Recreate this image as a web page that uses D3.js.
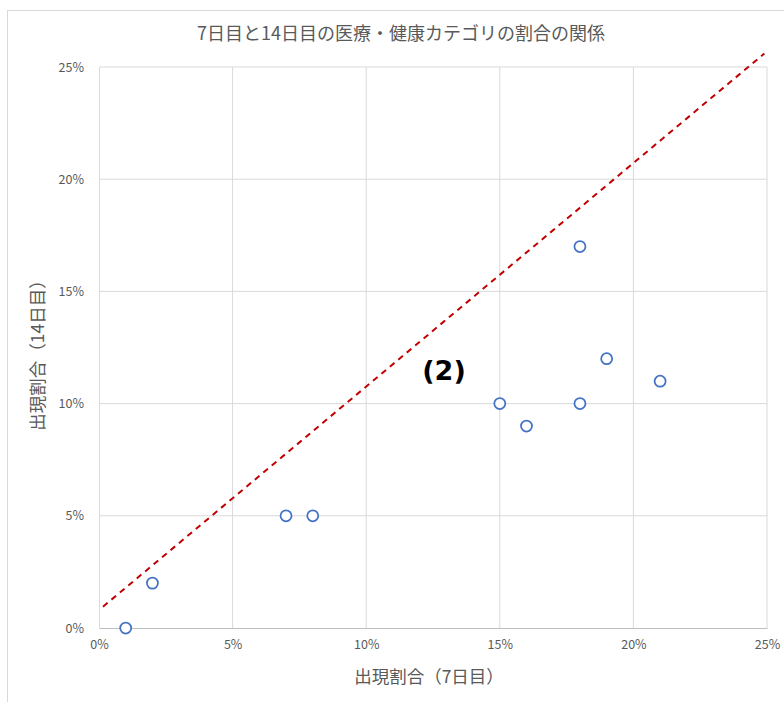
<!DOCTYPE html>
<html><head><meta charset="utf-8">
<script src="https://cdn.jsdelivr.net/npm/d3@7"></script>
<style>body{margin:0;background:#fff;}svg{display:block;font-family:"Noto Sans CJK JP","Noto Sans",sans-serif;}</style>
</head><body>
<script>
const day7 = [1, 2, 7, 8, 15, 16, 18, 18, 19, 21];
const day14 = [0, 2, 5, 5, 10, 9, 17, 10, 12, 11];
const xTicks = [0, 5, 10, 15, 20, 25];
const yTicks = [0, 5, 10, 15, 20, 25];
const refLineX = [0.15, 24.9];
const refLineY = [0.95, 25.6];
const title = "7日目と14日目の医療・健康カテゴリの割合の関係";
const xTitle = "出現割合（7日目）";
const yTitle = "出現割合（14日目）";
const note = "(2)";

const W = 784, H = 702;
const svg = d3.select("body").append("svg").attr("width", W).attr("height", H);
svg.append("rect").attr("x", 7.5).attr("y", 10.5).attr("width", 800).attr("height", 720)
  .attr("fill", "#fff").attr("stroke", "#d9d9d9");

const x = d3.scaleLinear().domain([0, 25]).range([99, 767]);
const y = d3.scaleLinear().domain([0, 25]).range([628, 67]);

// gridlines
svg.append("g").selectAll("line").data(xTicks.slice(1)).join("line")
  .attr("x1", d => x(d)).attr("x2", d => x(d)).attr("y1", y(0)).attr("y2", y(25))
  .attr("stroke", "#d9d9d9");
svg.append("g").selectAll("line").data(yTicks.slice(1)).join("line")
  .attr("x1", x(0)).attr("x2", x(25)).attr("y1", d => y(d)).attr("y2", d => y(d))
  .attr("stroke", "#d9d9d9");

// axes
const xa = svg.append("g").attr("transform", `translate(0,${y(0)})`)
  .call(d3.axisBottom(x).tickValues(xTicks).tickFormat(d => d + "%").tickSize(0).tickPadding(12));
const ya = svg.append("g").attr("transform", `translate(${x(0)},0)`)
  .call(d3.axisLeft(y).tickValues(yTicks).tickFormat(d => d + "%").tickSize(0).tickPadding(15));
[xa, ya].forEach(a => {
  a.select(".domain").attr("stroke", "#bfbfbf");
  a.selectAll("text").attr("fill", "#595959").attr("font-size", 12.5)
    .attr("font-family", '"Noto Sans CJK JP","Noto Sans",sans-serif');
});
ya.select(".domain").attr("stroke", "#d9d9d9");

// reference line
svg.append("line")
  .attr("x1", x(refLineX[0])).attr("y1", y(refLineY[0]))
  .attr("x2", x(refLineX[1])).attr("y2", y(refLineY[1]))
  .attr("stroke", "#c00000").attr("stroke-width", 2).attr("stroke-dasharray", "6,5");

// points
svg.append("g").selectAll("circle").data(day7.map((d, i) => [d, day14[i]])).join("circle")
  .attr("cx", d => x(d[0])).attr("cy", d => y(d[1])).attr("r", 5.5)
  .attr("fill", "#fff").attr("stroke", "#4472c4").attr("stroke-width", 1.75);

// texts
svg.append("text").attr("x", 401).attr("y", 40).attr("text-anchor", "middle")
  .attr("font-size", 18).attr("fill", "#595959").text(title);
svg.append("text").attr("x", 429).attr("y", 683).attr("text-anchor", "middle")
  .attr("font-size", 17.5).attr("fill", "#595959").text(xTitle);
svg.append("text").attr("transform", "translate(44,351) rotate(-90)").attr("text-anchor", "middle")
  .attr("font-size", 17.5).attr("fill", "#595959").text(yTitle);
svg.append("text").attr("x", 444).attr("y", 380).attr("text-anchor", "middle")
  .attr("font-size", 27).attr("font-weight", "bold").attr("fill", "#000")
  .attr("font-family", '"DejaVu Sans",sans-serif').text(note);
</script>
</body></html>
